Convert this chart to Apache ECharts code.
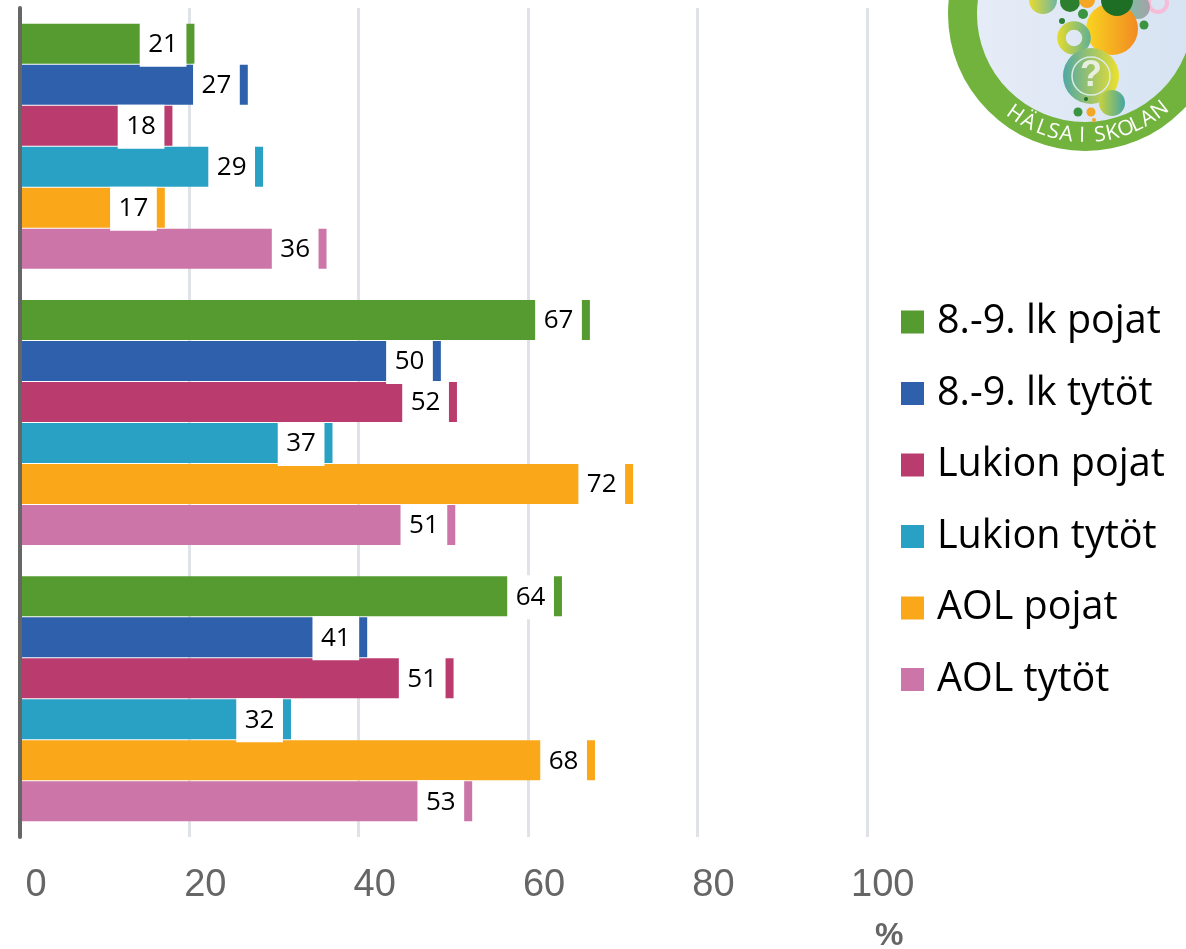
<!DOCTYPE html>
<html>
<head>
<meta charset="utf-8">
<style>html,body{margin:0;padding:0;background:#fff}#c{width:1186px;height:949px}</style>
<script src="https://cdn.jsdelivr.net/npm/echarts@6/dist/echarts.min.js"></script>
</head>
<body>
<div id="c"></div>
<script>
const categories = ['Ryhmä 1', 'Ryhmä 2', 'Ryhmä 3'];
const lk89Pojat = [20.6, 67.3, 64.0];
const lk89Tytot = [26.9, 49.7, 41.0];
const lukioPojat = [18.0, 51.6, 51.2];
const lukioTytot = [28.7, 36.9, 32.0];
const aolPojat = [17.1, 72.4, 67.9];
const aolTytot = [36.2, 51.4, 53.4];
const seriesNames = ['8.-9. lk pojat', '8.-9. lk tytöt', 'Lukion pojat', 'Lukion tytöt', 'AOL pojat', 'AOL tytöt'];
const seriesColors = ['#559B2F', '#2F60AB', '#BA3B6E', '#28A1C4', '#FBA71A', '#CB75A8'];
const seriesValues = [lk89Pojat, lk89Tytot, lukioPojat, lukioTytot, aolPojat, aolTytot];
const axisTicks = [0, 20, 40, 60, 80, 100];

// Decorative logo, partly cut off by the page's top edge
const logoLetters = ['H','Ä','L','S','A','I','S','K','O','L','A','N'];
const logoLetterAngles = [-35, -27.6, -20.7, -15, -8.9, -1.4, 7, 13, 19.6, 25, 31, 38];
const LX = 1085, LY = 14;
const grad = (a, b) => ({type:'linear', x:0, y:0, x2:1, y2:0, colorStops:[{offset:0,color:a},{offset:1,color:b}]});
const dot = (cx, cy, r, fill) => ({type:'circle', silent:true, shape:{cx, cy, r}, style:{fill}});
const ring = (cx, cy, r, stroke, lineWidth) => ({type:'circle', silent:true, shape:{cx, cy, r}, style:{fill:'none', stroke, lineWidth}});
const logo = [
  dot(LX, LY, 137, '#72B33E'),
  {type:'circle', silent:true, shape:{cx:LX, cy:LY, r:108}, style:{fill:grad('#E6ECF7','#D6E3F2')}},
  dot(1043, 0, 14, grad('#E9DC2E','#6FB6A0')),
  dot(1070, 2, 10, '#2C7F2E'),
  dot(1087, 0, 8, '#F5A623'),
  ring(1158, 3, 9, '#F6BCD8', 4),
  dot(1138, 7, 12, grad('#7FBFA5','#A5A0A8')),
  dot(1112, 29, 26, grad('#F8D51F','#F28A22')),
  dot(1117, 0, 16, '#1F6E25'),
  dot(1083, 14, 5, '#3A9440'),
  dot(1062, 21, 3, '#2C8035'),
  dot(1144, 25, 4.5, '#3A9440'),
  ring(1074, 38, 12.5, grad('#E5DC2C','#5FB097'), 8.5),
  dot(1091, 76, 28, grad('#4FA8A6','#EDE02E')),
  ring(1091, 76, 19, '#DCEBE6', 1.5),
  {type:'text', silent:true, style:{x:1091, y:76, text:'?', fill:'#E8EFE0', font:'bold 36px "Liberation Sans"', align:'center', verticalAlign:'middle'}},
  dot(1112, 103, 13, grad('#C9D33A','#45A5A5')),
  dot(1086, 99, 2, '#1F6E25'),
  dot(1078, 112, 4.5, '#3A9440'),
  dot(1091, 112, 4.5, '#F5A623'),
  dot(1094, 120, 2, '#F5A623')
].concat(logoLetters.map((ch, i) => {
  const t = logoLetterAngles[i] * Math.PI / 180;
  return {type:'text', silent:true, x: LX + 122 * Math.sin(t), y: LY + 122 * Math.cos(t), rotation: t,
    style:{x:0, y:0, text:ch, fill:'#fff', font:'21px "Open Sans"', align:'center', verticalAlign:'middle'}};
}));

const chart = echarts.init(document.getElementById('c'), null, {renderer:'canvas'});
chart.setOption({
  animation: false,
  backgroundColor: '#fff',
  grid: {left: 20, top: 8, width: 846.8, height: 829, containLabel: false},
  title: {text: '%', left: 875, top: 920, textStyle: {fontFamily: 'Liberation Sans', fontWeight: 'bold', fontSize: 32, color: '#666'}, padding: 0},
  legend: {
    orient: 'vertical', left: 901, top: 302, padding: 0, icon: 'rect',
    itemWidth: 23, itemHeight: 23, itemGap: 31.5, selectedMode: false,
    data: seriesNames,
    textStyle: {fontFamily: 'Open Sans', fontSize: 39.5, color: '#000', lineHeight: 30, padding: [0, 0, 0, 8]}
  },
  xAxis: {
    type: 'value', min: 0, max: 100, interval: 20,
    axisLine: {show: false}, axisTick: {show: false},
    splitLine: {show: true, lineStyle: {color: '#DFE3E7', width: 3}},
    axisLabel: {
      fontFamily: 'Liberation Sans', fontSize: 38, color: '#666', margin: 30,
      padding: [0, 0, 0, 32], hideOverlap: false,
      formatter: v => axisTicks.includes(v) ? String(v) : ''
    }
  },
  yAxis: {
    type: 'category', inverse: true, data: categories, z: 5,
    axisLine: {show: true, lineStyle: {color: '#666', width: 4}},
    axisTick: {show: false}, axisLabel: {show: false}, splitLine: {show: false}
  },
  graphic: logo,
  series: seriesNames.map((name, i) => ({
    name, type: 'bar', data: seriesValues[i], barWidth: 40, barGap: '2.5%',
    itemStyle: {color: seriesColors[i]},
    label: {
      show: true, position: 'insideRight', distance: 8, offset: [0, 1],
      formatter: p => String(Math.round(p.value)),
      fontFamily: 'Open Sans', fontSize: 26, color: '#000', lineHeight: 26,
      backgroundColor: '#fff', padding: [10, 8.5, 8, 8.5]
    }
  }))
});
</script>
</body>
</html>
